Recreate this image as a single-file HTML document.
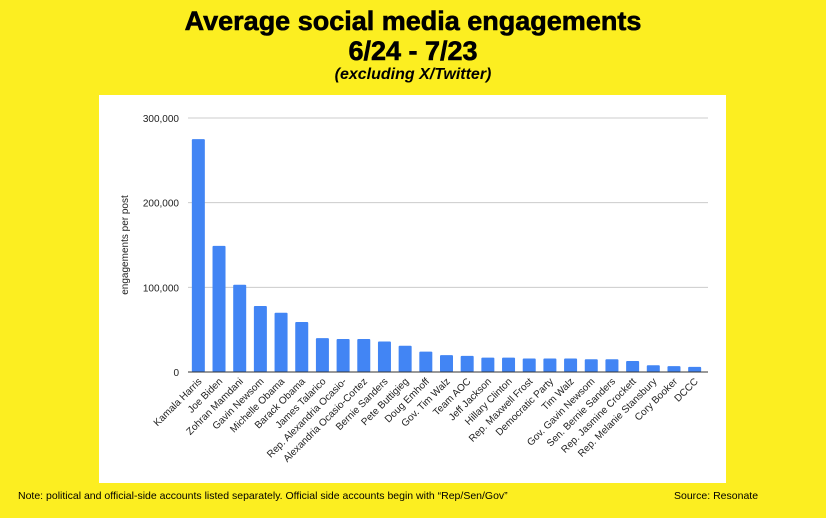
<!DOCTYPE html>
<html><head><meta charset="utf-8"><style>
body{margin:0;width:826px;height:518px;background:#fcee21;font-family:"Liberation Sans",sans-serif;position:relative;overflow:hidden}
.t{position:absolute;left:0;width:826px;text-align:center;font-weight:bold;color:#000}
</style></head><body>
<div class="t" style="top:6px;font-size:27px;line-height:30px;-webkit-text-stroke:0.6px #000">Average social media engagements<br>6/24 - 7/23</div>
<div class="t" style="top:66px;font-size:16px;font-style:italic">(excluding X/Twitter)</div>
<svg id="c" width="826" height="518" style="position:absolute;left:0;top:0">
<rect x="99" y="95" width="627" height="388" fill="#fff"/>
</svg>
<div style="position:absolute;left:18px;top:490px;font-size:10.5px">Note: political and official-side accounts listed separately. Official side accounts begin with “Rep/Sen/Gov”</div>
<div style="position:absolute;left:674px;top:490px;font-size:10.5px">Source: Resonate</div>
<script>
const categories=["Kamala Harris","Joe Biden","Zohran Mamdani","Gavin Newsom","Michelle Obama","Barack Obama","James Talarico","Rep. Alexandria Ocasio-","Alexandria Ocasio-Cortez","Bernie Sanders","Pete Buttigieg","Doug Emhoff","Gov. Tim Walz","Team AOC","Jeff Jackson","Hillary Clinton","Rep. Maxwell Frost","Democratic Party","Tim Walz","Gov. Gavin Newsom","Sen. Bernie Sanders","Rep. Jasmine Crockett","Rep. Melanie Stansbury","Cory Booker","DCCC"];
const values=[275000,149000,103000,78000,70000,59000,40000,39000,39000,36000,31000,24000,20000,19000,17000,17000,16000,16000,16000,15000,15000,13000,8000,7000,6000];
const yTicks=[0,100000,200000,300000];
const yTickLabels=["0","100,000","200,000","300,000"];
const NS="http://www.w3.org/2000/svg",svg=document.getElementById('c');
const x0=188,x1=705,y0=372,y1=118,ymax=300000;
const step=(x1-x0)/categories.length;
const y=v=>y0-(v/ymax)*(y0-y1);
const xc=i=>x0+step*(i+0.5);
function mk(t,a){const e=document.createElementNS(NS,t);for(const k in a)e.setAttribute(k,a[k]);svg.appendChild(e);return e;}
yTicks.forEach((v,i)=>{
 if(v>0){const g=mk('line',{x1:x0,x2:708,y1:y(v),y2:y(v),stroke:'#ccc','stroke-width':1});
 
 }
 const t=mk('text',{x:179,y:y(v)+4,'text-anchor':'end','font-size':10,fill:'#222'});t.textContent=yTickLabels[i];
 
 
});
const yt=mk('text',{transform:'translate(128,245) rotate(-90)','text-anchor':'middle','font-size':10,fill:'#222'});yt.textContent='engagements per post';


values.forEach((v,i)=>{
 const b=mk('rect',{x:xc(i)-6.5,y:y(v),width:13,height:y0-y(v),fill:'#4285f4',rx:1});
 
 
 const t=mk('text',{transform:`translate(${xc(i)+4},${y0+10}) rotate(-45)`,'text-anchor':'end','font-size':10,fill:'#222'});t.textContent=categories[i];
 
 
});
const ax=mk('line',{x1:x0,x2:708,y1:y0,y2:y0,stroke:'#333','stroke-width':1});


</script>
</body></html>
